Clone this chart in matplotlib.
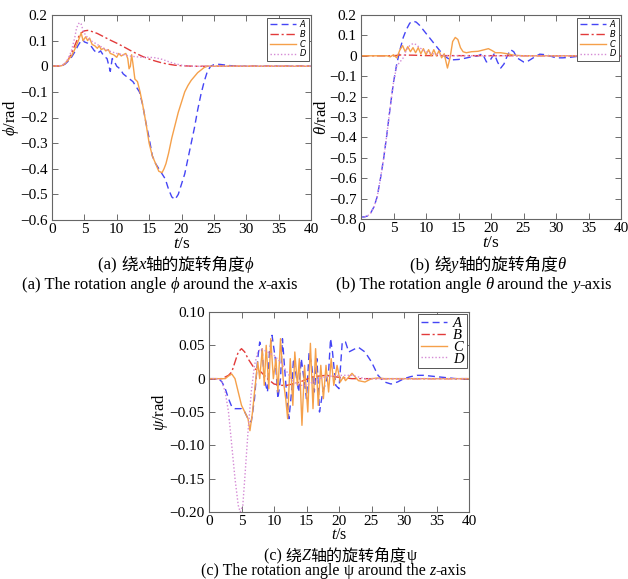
import matplotlib
matplotlib.use("Agg")
import matplotlib.pyplot as plt
from matplotlib.ticker import FuncFormatter
from matplotlib.offsetbox import TextArea, HPacker, AnnotationBbox

plt.rcParams['font.family'] = ['Liberation Serif', 'DejaVu Serif']
plt.rcParams['mathtext.fontset'] = 'custom'
plt.rcParams['mathtext.rm'] = 'Liberation Serif'
plt.rcParams['mathtext.it'] = 'Liberation Serif:italic'

SERIF = ['Liberation Serif', 'DejaVu Serif']
CJK = ['Noto Sans CJK SC']

labels = ['A', 'B', 'C', 'D']
colors = ['#4545f5', '#e23a3a', '#f5a04a', '#d58ad5']
styles = [(0, (5, 3)), (0, (6, 2, 1.5, 2)), '-', (0, (1, 1.5))]

# ---- (a) phi around the x-axis
ta_A = [0, 1, 1.5, 2, 2.5, 3, 3.5, 4, 4.5, 4.7, 5, 5.5, 6, 6.5, 7, 7.5, 8, 8.5, 9, 9.3, 9.6, 10,
        10.5, 11, 11.5, 12, 12.5, 13, 13.5, 14, 14.5, 15, 15.5, 16, 16.5, 17, 17.5, 18, 18.5, 19,
        19.5, 20, 20.5, 21, 21.5, 22, 22.5, 23, 23.5, 24, 24.5, 25, 25.5, 26, 27, 28, 29, 40]
pa_A = [0, 0, 0.002, 0.008, 0.02, 0.035, 0.055, 0.08, 0.1, 0.106, 0.095, 0.09, 0.08, 0.062, 0.05,
        0.06, 0.04, 0.03, -0.02, 0.03, 0.02, 0.0, -0.01, -0.03, -0.04, -0.05, -0.06, -0.08, -0.1,
        -0.15, -0.22, -0.28, -0.35, -0.38, -0.4, -0.42, -0.44, -0.48, -0.51, -0.52, -0.5, -0.46,
        -0.42, -0.36, -0.3, -0.24, -0.17, -0.11, -0.06, -0.02, 0.0, 0.006, 0.008, 0.007, 0.004,
        0.001, 0, 0]
ta_B = [0, 1.5, 2, 2.5, 3, 3.5, 4, 4.5, 5, 5.5, 6, 7, 8, 9, 10, 11, 12, 13, 14, 15, 16, 17, 18,
        19, 20, 21, 22, 40]
pa_B = [0, 0.002, 0.01, 0.025, 0.05, 0.08, 0.11, 0.13, 0.138, 0.14, 0.137, 0.128, 0.115, 0.102,
        0.09, 0.077, 0.063, 0.05, 0.038, 0.028, 0.02, 0.013, 0.008, 0.004, 0.002, 0.001, 0, 0]
ta_C = [0, 1.5, 2, 2.5, 3, 3.5, 4, 4.5, 4.8, 5.2, 5.5, 5.8, 6.2, 6.6, 7, 7.3, 7.6, 8, 8.3, 8.7, 9,
        9.5, 10, 10.3, 10.7, 11, 11.4, 11.7, 11.9, 12.1, 12.3, 12.5, 12.8, 13.2, 13.6, 14, 14.5,
        15, 15.5, 16, 16.5, 17, 17.3, 17.6, 18, 18.5, 19, 19.5, 20, 20.5, 21, 21.5, 22, 22.5, 23,
        23.5, 24, 40]
pa_C = [0, 0.002, 0.01, 0.025, 0.04, 0.065, 0.095, 0.13, 0.1, 0.115, 0.1, 0.11, 0.085, 0.08,
        0.07, 0.08, 0.065, 0.07, 0.06, 0.065, 0.05, 0.045, 0.035, 0.05, 0.04, 0.045, 0.05, 0.03,
        -0.01, 0.0, 0.045, 0.01, -0.05, -0.06, -0.1, -0.15, -0.22, -0.3, -0.35, -0.38, -0.41,
        -0.415, -0.4, -0.38, -0.34, -0.28, -0.23, -0.18, -0.14, -0.1, -0.075, -0.055, -0.04,
        -0.025, -0.015, -0.005, 0.0, 0]
ta_D = [0, 1.5, 2, 2.5, 3, 3.5, 3.8, 4.2, 4.5, 4.8, 5.2, 5.6, 6, 7, 8, 9, 10, 11, 12, 13, 14, 15,
        16, 17, 18, 19, 20, 21, 22, 40]
pa_D = [0, 0.003, 0.012, 0.03, 0.06, 0.11, 0.15, 0.17, 0.165, 0.14, 0.12, 0.11, 0.1, 0.085,
        0.07, 0.058, 0.05, 0.045, 0.04, 0.037, 0.035, 0.035, 0.033, 0.027, 0.018, 0.01, 0.004,
        0.001, 0, 0]

# ---- (b) theta around the y-axis
tb_A = [0, 0.5, 1, 1.5, 2, 2.5, 3, 3.5, 4, 4.5, 5, 5.5, 6, 6.5, 7, 7.5, 8, 8.5, 9, 9.5, 10, 10.5,
        11, 11.5, 12, 12.5, 13, 13.5, 14, 15, 16, 17, 18, 18.7, 19.3, 19.8, 20.5, 21, 21.5, 22,
        22.5, 23, 23.5, 24, 25, 25.5, 26.5, 27.5, 28.5, 30, 31, 32, 33, 34, 40]
th_A = [-0.79, -0.79, -0.785, -0.77, -0.74, -0.69, -0.6, -0.5, -0.38, -0.25, -0.13, -0.04, 0.03,
        0.09, 0.13, 0.16, 0.17, 0.165, 0.15, 0.13, 0.11, 0.09, 0.07, 0.05, 0.03, 0.01, -0.005,
        -0.015, -0.02, -0.018, -0.012, -0.005, 0.0, 0.01, -0.03, -0.025, 0.01, -0.03, -0.06,
        -0.04, 0.0, 0.03, 0.02, -0.01, -0.03, -0.03, -0.01, 0.008, 0.005, -0.01, -0.01, -0.008,
        -0.004, 0.0, 0]
tb_B = [0, 5, 6, 8, 10, 40]
th_B = [0, 0, 0.004, 0.003, 0.001, 0]
tb_C = [0, 4, 4.5, 5, 5.5, 6, 6.4, 6.8, 7.2, 7.6, 8, 8.4, 8.8, 9.2, 9.6, 10, 10.4, 10.8, 11.2,
        11.6, 12, 12.4, 12.8, 13.3, 13.7, 14.1, 14.5, 14.9, 15.3, 15.7, 16.2, 17, 18, 19, 19.6,
        20.2, 20.7, 21.5, 22.5, 23.5, 25, 40]
th_C = [0, 0, -0.005, 0.005, -0.01, 0.03, 0.05, 0.02, 0.045, 0.02, 0.04, 0.015, 0.04, 0.01,
        0.035, 0.005, 0.03, 0.0, 0.03, 0.0, 0.025, -0.01, 0.01, -0.06, -0.01, 0.07, 0.09, 0.08,
        0.04, 0.02, 0.015, 0.02, 0.022, 0.03, 0.035, 0.025, 0.015, 0.015, 0.01, 0.003, 0, 0]
tb_D = [0, 0.5, 1, 1.5, 2, 2.5, 3, 3.5, 4, 4.5, 5, 5.5, 6, 6.5, 7, 7.5, 8, 8.5, 9, 9.5, 10, 11,
        12, 13, 40]
th_D = [-0.79, -0.79, -0.785, -0.77, -0.74, -0.69, -0.6, -0.5, -0.38, -0.25, -0.13, -0.05,
        -0.03, -0.01, 0.03, 0.05, 0.06, 0.055, 0.04, 0.03, 0.02, 0.01, 0.005, 0, 0]

# ---- (c) psi around the z-axis
tc_A = [0, 1.5, 2, 2.5, 3, 3.5, 4, 5, 5.5, 6, 6.5, 7, 7.5, 7.8, 8.2, 8.5, 9, 9.3, 9.7, 10.2,
        10.6, 11, 11.3, 11.6, 12, 12.3, 12.7, 13, 13.4, 13.8, 14.2, 14.6, 15, 15.4, 15.8, 16.2,
        16.6, 17, 17.5, 18, 18.4, 18.7, 19, 19.5, 20, 20.5, 21, 21.5, 22.5, 23, 24, 25, 26, 27,
        28, 29, 30, 31, 32, 33, 34, 36, 38, 40]
ps_A = [0, 0, -0.005, -0.015, -0.03, -0.042, -0.045, -0.045, -0.05, -0.06, -0.065, -0.03, 0.03,
        0.055, 0.04, 0.0, -0.02, 0.04, 0.065, 0.03, -0.03, 0.0, 0.06, 0.02, -0.03, -0.06, -0.02,
        0.03, 0.005, -0.02, 0.03, 0.0, -0.03, 0.04, 0.02, -0.02, 0.03, -0.05, -0.02, -0.005,
        0.01, 0.06, 0.04, -0.01, -0.015, 0.055, 0.055, 0.04, 0.045, 0.047, 0.04, 0.025, 0.005,
        -0.005, -0.008, -0.005, 0.0, 0.003, 0.005, 0.005, 0.004, 0.002, 0, 0]
tc_B = [0, 2, 3, 3.5, 4, 4.5, 5, 5.5, 6, 7, 8, 9, 10, 11, 12, 14, 16, 18, 20, 22, 40]
ps_B = [0, 0, 0.005, 0.01, 0.025, 0.04, 0.045, 0.04, 0.03, 0.015, 0.01, 0.0, -0.008, -0.01,
        -0.01, -0.005, 0.003, 0.005, 0.002, 0, 0]
tc_C = [0, 2, 2.5, 3, 3.5, 4, 4.5, 5, 5.5, 6, 6.3, 6.7, 7, 7.5, 7.8, 8.2, 8.5, 8.8, 9.2, 9.5,
        9.9, 10.3, 10.6, 11, 11.4, 11.8, 12.1, 12.5, 12.9, 13.2, 13.6, 13.9, 14.3, 14.7, 15.2,
        15.6, 16, 16.4, 16.8, 17.2, 17.6, 18, 18.4, 18.8, 19.2, 19.7, 20.2, 20.7, 21, 22, 23, 24,
        25, 26, 27, 40]
ps_C = [0, 0, 0.0, 0.004, 0.007, 0.0, -0.02, -0.04, -0.05, -0.06, -0.078, -0.05, -0.02, 0.025,
        0.0, 0.045, -0.01, 0.05, -0.015, 0.06, 0.0, 0.03, -0.02, 0.06, 0.0, -0.03, -0.06, 0.03,
        -0.04, 0.04, -0.01, 0.03, -0.07, 0.02, -0.05, 0.053, -0.045, 0.045, -0.04, 0.02, -0.03,
        0.02, -0.02, 0.03, -0.01, 0.02, -0.005, 0.003, -0.003, 0.008, -0.003, -0.005, 0.0, 0.001,
        0, 0]
tc_D = [0, 1.5, 2, 2.5, 3, 3.5, 4, 4.5, 4.8, 5.2, 5.5, 6, 6.5, 7, 7.5, 8, 9, 10, 11, 12, 13, 14,
        15, 16, 17, 18, 20, 22, 24, 40]
ps_D = [0, 0, -0.005, -0.02, -0.05, -0.1, -0.15, -0.19, -0.2, -0.19, -0.15, -0.08, -0.02, 0.02,
        0.04, 0.045, 0.04, 0.035, 0.025, 0.01, -0.005, -0.01, -0.01, -0.005, 0.0, 0.003, 0.005,
        0.005, 0, 0]

fig = plt.figure(figsize=(6.28, 5.79), dpi=100)
W, H = 628, 579


def px_axes(l, t, r, b):
    return fig.add_axes([l / W, 1 - b / H, (r - l) / W, (b - t) / H])


def style_axes(ax, yticks, fmt):
    ax.set_xlim(0, 40)
    ax.set_xticks(range(0, 41, 5))
    ax.set_ylim(yticks[0], yticks[-1])
    ax.set_yticks(yticks)
    ax.yaxis.set_major_formatter(FuncFormatter(lambda v, p: '0' if abs(v) < 1e-9 else (fmt % v).replace('-', '\u2212')))
    ax.tick_params(direction='in', top=True, right=True, length=4, width=0.6,
                   color='#555555', labelsize=11)
    ax.tick_params(axis='x', pad=2)
    ax.tick_params(axis='y', pad=3)
    for s in ax.spines.values():
        s.set_color('#666666')
        s.set_linewidth(0.8)


def caption(x, y, parts, size=12):
    boxes = []
    for s, fam, st in parts:
        boxes.append(TextArea(s, textprops=dict(fontsize=size, family=fam, style=st)))
    pack = HPacker(children=boxes, pad=0, sep=0, align='baseline')
    ab = AnnotationBbox(pack, (x / W, 1 - y / H), xycoords='figure fraction',
                        frameon=False, box_alignment=(0.5, 0.5))
    fig.add_artist(ab)


def small_legend(ax):
    leg = ax.legend(loc='upper right', handlelength=3.2, labelspacing=0.1, handletextpad=0.4,
                    borderpad=0.3, borderaxespad=0.3, fancybox=False, edgecolor='#555555',
                    framealpha=1, prop={'family': 'DejaVu Sans', 'style': 'italic', 'size': 6})
    leg.get_frame().set_linewidth(0.7)


# (a)
ax1 = px_axes(52, 15, 311, 220)
for t, v, c, ls, lb in zip([ta_A, ta_B, ta_C, ta_D], [pa_A, pa_B, pa_C, pa_D], colors, styles, labels):
    ax1.plot(t, v, color=c, ls=ls, lw=1.0, label=lb)
style_axes(ax1, [-0.6, -0.5, -0.4, -0.3, -0.2, -0.1, 0, 0.1, 0.2], '%.1f')
ax1.set_ylabel(r'$\phi$/rad', fontsize=12, labelpad=-0.5)
ax1.set_xlabel(r'$t$/s', fontsize=12.5, labelpad=0)
small_legend(ax1)

# (b)
ax2 = px_axes(361, 15, 621, 219)
for t, v, c, ls, lb in zip([tb_A, tb_B, tb_C, tb_D], [th_A, th_B, th_C, th_D], colors, styles, labels):
    ax2.plot(t, v, color=c, ls=ls, lw=1.0, label=lb)
style_axes(ax2, [-0.8, -0.7, -0.6, -0.5, -0.4, -0.3, -0.2, -0.1, 0, 0.1, 0.2], '%.1f')
ax2.set_ylabel(r'$\theta$/rad', fontsize=12, labelpad=-0.5)
ax2.set_xlabel(r'$t$/s', fontsize=12.5, labelpad=0)
small_legend(ax2)

# (c)
ax3 = px_axes(209, 312, 469, 512)
for t, v, c, ls, lb in zip([tc_A, tc_B, tc_C, tc_D], [ps_A, ps_B, ps_C, ps_D], colors, styles, labels):
    ax3.plot(t, v, color=c, ls=ls, lw=1.0, label=lb)
style_axes(ax3, [-0.2, -0.15, -0.1, -0.05, 0, 0.05, 0.1], '%.2f')
ax3.set_ylabel(r'$\psi$/rad', fontsize=12, labelpad=0)
ax3.set_xlabel(r'$t$/s', fontsize=11.5, labelpad=-0.5)
leg = ax3.legend(loc='upper right', handlelength=1.8, labelspacing=-0.1, handletextpad=0.4,
                 borderpad=0.2, borderaxespad=0.15, fancybox=False, edgecolor='#555555',
                 framealpha=1, prop={'family': SERIF, 'style': 'italic', 'size': 10.5})
leg.get_frame().set_linewidth(0.7)

# captions
caption(176, 265, [('(a) ', SERIF, 'normal'), ('绕', CJK, 'normal'), ('x', SERIF, 'italic'),
                   ('轴的旋转角度', CJK, 'normal'), ('\u03d5', SERIF, 'italic')])
caption(160, 285, [('(a) The rotation angle ', SERIF, 'normal'), ('\u03d5', SERIF, 'italic'),
                   (' around the ', SERIF, 'normal'), ('x', SERIF, 'italic'), ('-axis', SERIF, 'normal')])
caption(488, 265, [('(b) ', SERIF, 'normal'), ('绕', CJK, 'normal'), ('y', SERIF, 'italic'),
                   ('轴的旋转角度', CJK, 'normal'), ('\u03b8', SERIF, 'italic')])
caption(474, 285, [('(b) The rotation angle ', SERIF, 'normal'), ('\u03b8', SERIF, 'italic'),
                   (' around the ', SERIF, 'normal'), ('y', SERIF, 'italic'), ('-axis', SERIF, 'normal')])
caption(340, 556, [('(c) ', SERIF, 'normal'), ('绕', CJK, 'normal'), ('Z', SERIF, 'italic'),
                   ('轴的旋转角度', CJK, 'normal'), ('\u03c8', SERIF, 'normal')], size=11.5)
caption(334, 571, [('(c) The rotation angle ', SERIF, 'normal'), ('\u03c8', SERIF, 'normal'),
                   (' around the ', SERIF, 'normal'), ('z', SERIF, 'italic'), ('-axis', SERIF, 'normal')], size=11.5)

fig.savefig('out.png', dpi=100)
